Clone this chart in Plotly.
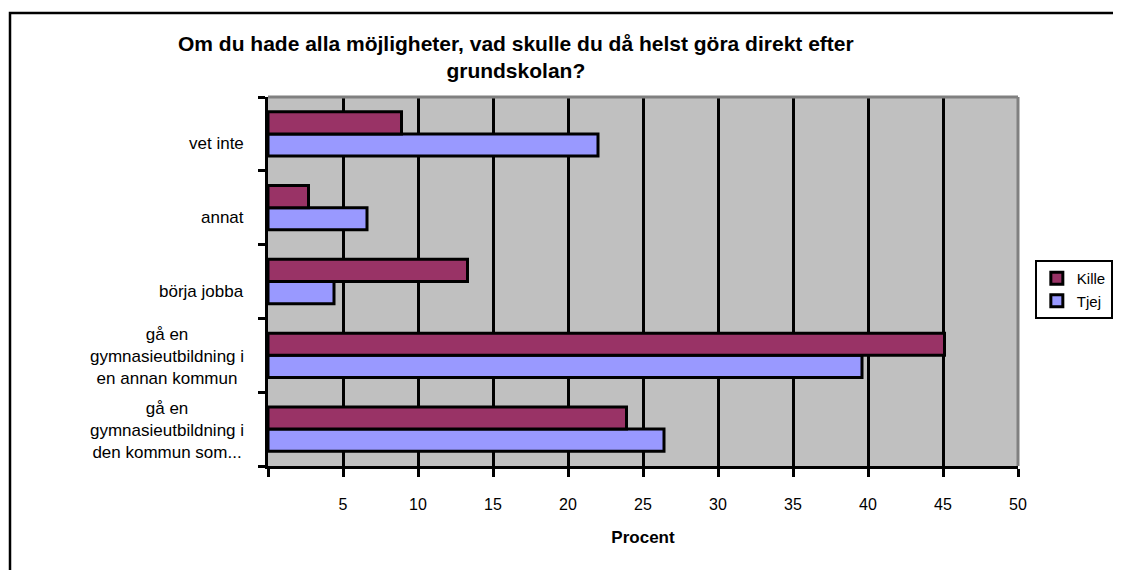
import plotly.graph_objects as go

# Categories listed bottom-to-top (plotly draws the first category at the bottom)
categories = [
    "gå en<br>gymnasieutbildning i<br>den kommun som...",
    "gå en<br>gymnasieutbildning i<br>en annan kommun",
    "börja jobba",
    "annat",
    "vet inte",
]
kille = [23.9, 45.1, 13.3, 2.7, 8.9]
tjej = [26.4, 39.6, 4.4, 6.6, 22.0]
x_ticks = [0, 5, 10, 15, 20, 25, 30, 35, 40, 45, 50]
x_ticktext = [""] + [str(v) for v in x_ticks[1:]]

FONT = "Arial, 'Liberation Sans', sans-serif"

fig = go.Figure()
# Tjej first so it sits below Kille inside each group
fig.add_trace(go.Bar(
    y=categories, x=tjej, orientation="h", name="Tjej",
    marker=dict(color="#9999FF", line=dict(color="black", width=3)),
))
fig.add_trace(go.Bar(
    y=categories, x=kille, orientation="h", name="Kille",
    marker=dict(color="#993366", line=dict(color="black", width=3)),
))

# Category labels, centred line by line and right-anchored near the axis (Excel style)
for cat in categories:
    multi = "<br>" in cat
    fig.add_annotation(
        x=-0.03, xref="paper", y=cat, yref="y",
        text=cat, showarrow=False, xanchor="right", align="center",
        yshift=-1 if multi else -10,
        font=dict(family=FONT, size=17, color="black"),
    )

# outer chart border
fig.add_shape(type="rect", xref="paper", yref="paper",
              x0=-0.344, x1=1.3, y0=-1.0, y1=1.2276,
              line=dict(color="black", width=2.5), layer="below")
# grey plot-area frame on top and right
fig.add_shape(type="line", xref="paper", yref="paper", x0=0, x1=1, y0=1, y1=1,
              line=dict(color="#808080", width=3))
fig.add_shape(type="line", xref="paper", yref="paper", x0=1, x1=1, y0=0, y1=1,
              line=dict(color="#808080", width=3))

fig.update_layout(
    width=1121, height=570,
    barmode="group", bargap=0.4, bargroupgap=0,
    plot_bgcolor="#C0C0C0", paper_bgcolor="white",
    font=dict(family=FONT, size=16, color="black"),
    margin=dict(l=260, r=111, t=89, b=112, autoexpand=False),
    title=dict(
        text="Om du hade alla möjligheter, vad skulle du då helst göra direkt efter<br>grundskolan?",
        x=0.453, xanchor="center", y=0.925, yanchor="middle", yref="container",
        font=dict(family=FONT, size=21, color="black", weight="bold"),
    ),
    xaxis=dict(
        range=[0, 50], tickvals=x_ticks, ticktext=x_ticktext,
        showgrid=True, gridcolor="black", gridwidth=3,
        showline=True, linecolor="black", linewidth=3,
        ticks="outside", ticklen=8, tickwidth=3, tickcolor="black",
        ticklabelstandoff=14, zeroline=False, automargin=False,
        tickfont=dict(family=FONT, size=16, color="black"),
        title=dict(text="<b>Procent</b>", standoff=19,
                   font=dict(family=FONT, size=17, color="black")),
    ),
    yaxis=dict(
        showticklabels=False, showgrid=False, automargin=False,
        showline=True, linecolor="black", linewidth=3,
        ticks="outside", tickson="boundaries", ticklen=7, tickwidth=3, tickcolor="black",
    ),
    legend=dict(
        xref="container", yref="container",
        x=0.916, xanchor="left", y=0.558, yanchor="top",
        traceorder="reversed", bordercolor="black", borderwidth=2,
        bgcolor="white", font=dict(family=FONT, size=15, color="black"),
        itemwidth=30,
    ),
)

fig.write_html("out.html")
